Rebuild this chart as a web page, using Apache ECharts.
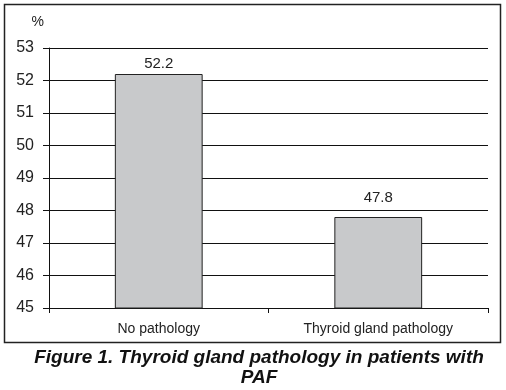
<!DOCTYPE html>
<html><head><meta charset="utf-8">
<script src="https://cdn.jsdelivr.net/npm/echarts@6/dist/echarts.min.js"></script>
<style>html,body{margin:0;padding:0;background:#fff}#c{width:506px;height:390px}</style>
</head><body><div id="c"></div>
<script>
const categories = ["No pathology", "Thyroid gland pathology"];
const values = [52.2, 47.8];
const yMin = 45, yMax = 53, yStep = 1;
const unitLabel = "%";
const captionText = "Figure 1. Thyroid gland pathology in patients with\nPAF";
const labelGaps = [3, 12];

const chart = echarts.init(document.getElementById('c'), null, {renderer: 'canvas'});
const font = '"Liberation Sans", Arial, sans-serif';
chart.setOption({
  animation: false,
  backgroundColor: '#fff',
  graphic: [{
    type: 'rect', shape: {x: 4.5, y: 4.5, width: 496, height: 338},
    style: {fill: 'none', stroke: '#222', lineWidth: 1.5}, z: -1
  }, {
    type: 'text', x: 259, y: 348,
    style: {text: captionText, fontFamily: font, fontSize: 19, fontWeight: 'bold', fontStyle: 'italic',
      fill: '#111', lineHeight: 20, align: 'center', verticalAlign: 'top'}
  }],
  grid: {left: 49, right: 18, top: 48, bottom: 82},
  xAxis: {
    type: 'category', data: categories, boundaryGap: true,
    axisLine: {show: true, lineStyle: {color: '#111', width: 1}},
    axisTick: {show: true, length: 5, lineStyle: {color: '#111'}},
    axisLabel: {fontFamily: font, fontSize: 14, color: '#222', margin: 14}
  },
  yAxis: {
    type: 'value', min: yMin, max: yMax, interval: yStep,
    name: unitLabel, nameLocation: 'end', nameGap: 19,
    nameTextStyle: {fontFamily: font, fontSize: 14, color: '#222', align: 'right', padding: [0, 5, 0, 0]},
    axisLine: {show: true, lineStyle: {color: '#111', width: 1}},
    axisTick: {show: true, length: 6, lineStyle: {color: '#111'}},
    axisLabel: {fontFamily: font, fontSize: 16, color: '#222', margin: 15},
    splitLine: {show: true, lineStyle: {color: '#111', width: 1}}
  },
  series: [{
    type: 'bar',
    data: values.map((v, i) => ({value: v, label: {distance: labelGaps[i]}})),
    barWidth: '40%',
    itemStyle: {color: '#c8c9cb', borderColor: '#222', borderWidth: 1},
    label: {show: true, position: 'top', fontFamily: font, fontSize: 15, color: '#222',
      formatter: p => p.value.toFixed(1)}
  }]
});
</script></body></html>
